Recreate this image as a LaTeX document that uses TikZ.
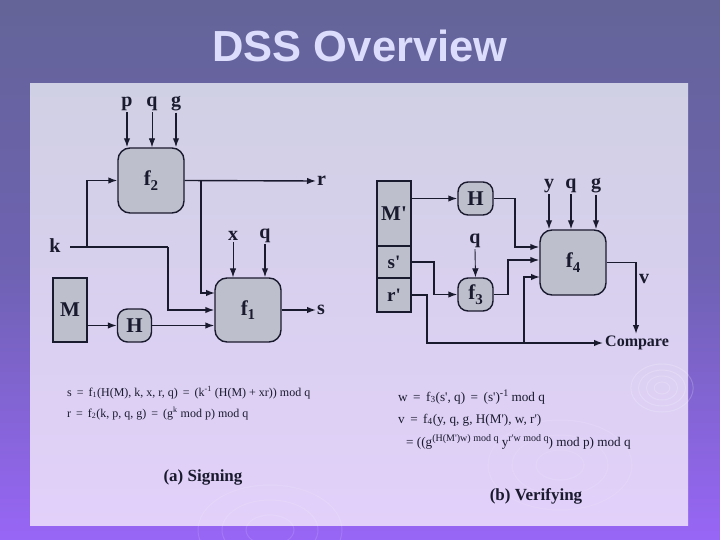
\documentclass[tikz,border=0pt]{standalone}
\usepackage{fontspec}
\setmainfont{Liberation Serif}
\newfontfamily\titlefont{Liberation Sans}
\usetikzlibrary{arrows.meta,calc}
\definecolor{ink}{RGB}{26,26,46}
\definecolor{boxfill}{RGB}{190,191,205}
\definecolor{bgtop}{RGB}{100,100,152}
\definecolor{bgmid}{RGB}{110,98,178}
\definecolor{bgbot}{RGB}{152,102,246}
\definecolor{paneltop}{RGB}{208,208,228}
\definecolor{panelbot}{RGB}{226,208,250}
\definecolor{titlecol}{RGB}{220,220,252}
\newcommand{\sbs}[1]{\raisebox{-4.5pt}{\fontsize{15}{15}\selectfont #1}}
\newcommand{\pr}{\textquotesingle}
\newcommand{\mysup}[1]{\raisebox{4.5pt}{\fontsize{10}{10}\selectfont #1}}
\tikzset{
  blk/.style={draw=ink, line width=1.4pt, fill=boxfill, inner sep=0pt, text=ink,
              font=\fontsize{21}{21}\selectfont\bfseries},
  fbox/.style={blk, rounded corners=12pt, minimum width=66pt, minimum height=65pt},
  hbox/.style={blk, rounded corners=10pt, minimum width=34pt, minimum height=33pt},
  sbox/.style={blk, minimum width=34pt},
  lab/.style={text=ink, font=\fontsize{20}{20}\selectfont\bfseries, inner sep=1pt},
  arr/.style={draw=ink, line width=1.4pt, -{Latex[length=9pt,width=6.5pt]}},
  tarr/.style={arr, line width=0.9pt},
  ln/.style={draw=ink, line width=1.4pt},
  frm/.style={text=ink, font=\fontsize{12}{12}\selectfont, inner sep=0pt, anchor=base west},
  frmb/.style={frm, font=\fontsize{13.2}{13.2}\selectfont},
  captxt/.style={text=ink, font=\fontsize{17}{17}\selectfont\bfseries, inner sep=0pt},
  ring/.style={draw=white, opacity=0.2, line width=1pt}
}
\begin{document}
\begin{tikzpicture}[x=1pt,y=-1pt]
\useasboundingbox (0,0) rectangle (720,540);
% background
\shade[top color=bgtop, bottom color=bgbot, middle color=bgmid] (0,0) rectangle (720,540);
\shade[top color=paneltop, bottom color=panelbot] (30,84) rectangle (688,525);
% decorative rings
\foreach \r in {6,12,18,24} {\draw[ring] (662,388) ellipse ({\r*1.3} and \r);}
\foreach \r in {15,30,45} {\draw[ring, opacity=0.12] (270,530) ellipse ({\r*1.6} and \r);}
\foreach \r in {15,30,45} {\draw[ring, opacity=0.1] (560,465) ellipse ({\r*1.6} and \r);}
% title
\node[text=titlecol, font=\titlefont\bfseries\fontsize{43.5}{43.5}\selectfont] (title) at (360,46) {DSS Overview};

% ===== Signing =====
\node[fbox] (f2) at (151,180.5) {f\sbs{2}};
\node[fbox, minimum height=64pt] (f1) at (248,310) {f\sbs{1}};
\node[sbox, minimum height=64pt] (M) at (70,310) {M};
\node[hbox] (H1) at (134.5,325.5) {H};
\node[lab] (p) at (127,104) {p};
\node[lab] (q1) at (152,104) {q};
\node[lab] (g1) at (176,104) {g};
\node[lab, anchor=west] (r) at (316,181) {r};
\node[lab, anchor=west] (s) at (316,310) {s};
\node[lab] (k) at (55,246) {k};
\node[lab] (x) at (233,236) {x};
\node[lab] (q2) at (265,236) {q};
\coordinate (k0) at (70,247);
\coordinate (kb) at (87,247);
\coordinate (kd) at (168,247);
\coordinate (rb) at (201,181);
\coordinate (f1a) at (215,293);

\draw[arr] (p.south) -- (p.south |- f2.north);
\draw[tarr] (q1.south) -- (q1.south |- f2.north);
\draw[arr] (g1.south) -- (g1.south |- f2.north);
\draw[arr] (f2.east) -- (r.west);
\draw[arr] (rb) |- (f1a);
\draw[ln] (k0) -- (kd);
\draw[arr] (kd) |- (f1.west);
\draw[arr] (kb) |- (f2.west);
\draw[tarr] (x.south) -- (x.south |- f1.north);
\draw[arr] (q2.south) -- (q2.south |- f1.north);
\draw[arr] (f1.east) -- (s.west);
\draw[arr] (M.east |- H1) -- (H1.west);
\draw[arr] (H1.east) -- (H1.east -| f1.west);

% formulas (a)
\node[frm] (fs) at (67,396) {s \,=\, f\textsubscript{1}(H(M), k, x, r, q) \,=\, (k\textsuperscript{-1} (H(M) + xr)) mod q};
\node[frm] (fr) at (67,417) {r \,=\, f\textsubscript{2}(k, p, q, g) \,=\, (g\textsuperscript{k} mod p) mod q};
\node[captxt] (capa) at (203,477) {(a) Signing};

% ===== Verifying =====
\node[sbox, minimum height=65pt] (Mp) at (394,213.5) {M\pr};
\node[sbox, minimum height=32pt, font=\fontsize{19}{19}\selectfont\bfseries] (sp) at (394,262) {s\pr};
\node[sbox, minimum height=34pt, font=\fontsize{19}{19}\selectfont\bfseries] (rp) at (394,295) {r\pr};
\node[hbox, minimum width=35pt] (H2) at (475.5,198.5) {H};
\node[hbox, minimum width=35pt] (f3) at (475.5,294.5) {f\sbs{3}};
\node[fbox] (f4) at (573,262.5) {f\sbs{4}};
\node[lab] (q3) at (475,241) {q};
\node[lab] (y) at (549,186) {y};
\node[lab] (q4) at (571,186) {q};
\node[lab] (g2) at (596,186) {g};
\node[lab] (v) at (644,279) {v};
\node[text=ink, font=\fontsize{16}{16}\selectfont\bfseries, anchor=west, inner sep=2pt] (cmp) at (603,343) {Compare};
\coordinate (hv) at (515,247);
\coordinate (sv) at (434,294.5);
\coordinate (fv) at (508,260);
\coordinate (rv) at (427,343);
\coordinate (rbr) at (524,343);
\coordinate (f4c) at (540,277);
\coordinate (vd) at (636,262.5);
\coordinate (vt) at (636,334);

\draw[arr] (Mp.east |- H2) -- (H2.west);
\draw[arr] (H2.east) -| (hv) -- (hv -| f4.west);
\draw[arr] (sp.east) -| (sv) -- (f3.west);
\draw[tarr] (q3.south) -- (f3.north);
\draw[arr] (f3.east) -| (fv) -- (fv -| f4.west);
\draw[arr] (rp.east) -| (rv) -- (cmp.west);
\draw[arr] (rbr) |- (f4c);
\draw[arr] (y.south) -- (y.south |- f4.north);
\draw[arr] (q4.south) -- (q4.south |- f4.north);
\draw[arr] (g2.south) -- (g2.south |- f4.north);
\draw[arr] (f4.east) -- (vd) -- (vt);

% formulas (b)
\node[frmb] (fw) at (398,401) {w \,=\, f\textsubscript{3}(s\pr, q) \,=\, (s\pr)\mysup{-1} mod q};
\node[frmb] (fv1) at (398,423) {v \,=\, f\textsubscript{4}(y, q, g, H(M\pr), w, r\pr)};
\node[frmb] (fv2) at (406,446) {= ((g\mysup{(H(M\pr)w) mod q} y\mysup{r\pr w mod q}) mod p) mod q};
\node[captxt] (capb) at (536,496) {(b) Verifying};
\end{tikzpicture}
\end{document}
